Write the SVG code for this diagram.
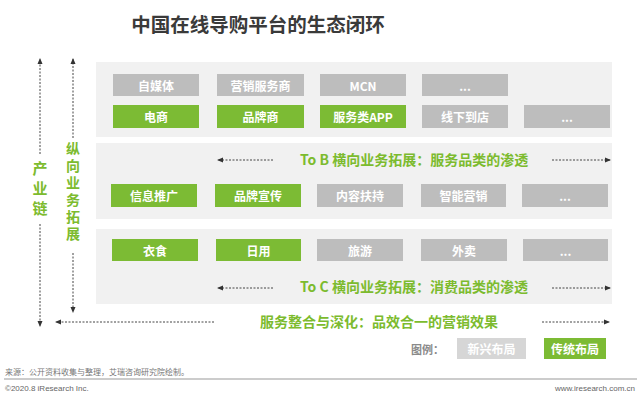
<svg xmlns="http://www.w3.org/2000/svg" width="640" height="400" viewBox="0 0 640 400">
<defs>
<marker id="ah" markerWidth="6" markerHeight="6" refX="5" refY="3" orient="auto" markerUnits="userSpaceOnUse"><path d="M0,0.5 L6,3 L0,5.5 Z" fill="#333"/></marker>
<style>
.cn{font-family:"Noto Sans CJK SC","Liberation Sans",sans-serif;}
.panel{fill:#f1f1f1;}
.g{fill:#7cbb34;}
.s{fill:#bdbdbd;}
.bt{font-family:"Noto Sans CJK SC","Liberation Sans",sans-serif;font-size:12px;font-weight:bold;fill:#fff;text-anchor:middle;dominant-baseline:central;}
.gt{font-family:"Noto Sans CJK SC","Liberation Sans",sans-serif;font-size:14px;font-weight:bold;fill:#7cbb2e;}
.vt{font-family:"Noto Sans CJK SC","Liberation Sans",sans-serif;font-weight:bold;fill:#7cbb2e;writing-mode:tb;}
.dash{stroke:#444;stroke-width:1;stroke-dasharray:2,1.5;fill:none;}
</style>
</defs>
<rect width="640" height="400" fill="#fff"/>
<text x="258" y="23" class="cn" font-size="19.5" font-weight="bold" fill="#3a3a3a" text-anchor="middle" dominant-baseline="central">中国在线导购平台的生态闭环</text>

<rect class="panel" x="96" y="62" width="516" height="75"/>
<rect class="panel" x="96" y="143" width="516" height="76"/>
<rect class="panel" x="96" y="229" width="516" height="75"/>

<g id="n1"><rect class="s" x="113" y="74" width="86" height="22"/><text class="bt" x="156" y="85">自媒体</text></g>
<g id="n2"><rect class="s" x="217" y="74" width="87" height="22"/><text class="bt" x="260.5" y="85">营销服务商</text></g>
<g id="n3"><rect class="s" x="320" y="74" width="86" height="22"/><text class="bt" x="363" y="85">MCN</text></g>
<g id="n4"><rect class="s" x="422" y="74" width="86" height="22"/><text class="bt" x="465" y="85">...</text></g>

<g id="n5"><rect class="g" x="113" y="105" width="86" height="23"/><text class="bt" x="156" y="116.5">电商</text></g>
<g id="n6"><rect class="g" x="217" y="105" width="87" height="23"/><text class="bt" x="260.5" y="116.5">品牌商</text></g>
<g id="n7"><rect class="g" x="320" y="105" width="86" height="23"/><text class="bt" x="363" y="116.5">服务类APP</text></g>
<g id="n8"><rect class="s" x="422" y="105" width="86" height="23"/><text class="bt" x="465" y="116.5">线下到店</text></g>
<g id="n9"><rect class="s" x="524" y="105" width="86" height="23"/><text class="bt" x="567" y="116.5">...</text></g>

<g id="n10"><rect class="g" x="111" y="184" width="86" height="23"/><text class="bt" x="154" y="195.5">信息推广</text></g>
<g id="n11"><rect class="g" x="215" y="184" width="86" height="23"/><text class="bt" x="258" y="195.5">品牌宣传</text></g>
<g id="n12"><rect class="s" x="317" y="184" width="86" height="23"/><text class="bt" x="360" y="195.5">内容扶持</text></g>
<g id="n13"><rect class="s" x="421" y="184" width="85" height="23"/><text class="bt" x="463.5" y="195.5">智能营销</text></g>
<g id="n14"><rect class="s" x="522" y="184" width="86" height="23"/><text class="bt" x="565" y="195.5">...</text></g>

<g id="n15"><rect class="g" x="112" y="239" width="86" height="22"/><text class="bt" x="155" y="250">衣食</text></g>
<g id="n16"><rect class="g" x="216" y="239" width="85" height="22"/><text class="bt" x="258.5" y="250">日用</text></g>
<g id="n17"><rect class="s" x="317" y="239" width="86" height="22"/><text class="bt" x="360" y="250">旅游</text></g>
<g id="n18"><rect class="s" x="421" y="239" width="86" height="22"/><text class="bt" x="464" y="250">外卖</text></g>
<g id="n19"><rect class="s" x="523" y="239" width="85" height="22"/><text class="bt" x="565.5" y="250">...</text></g>

<g id="labels">
<text class="gt" x="300" y="165">To B 横向业务拓展：服务品类的渗透</text>
<text class="gt" x="300" y="292">To C 横向业务拓展：消费品类的渗透</text>
<text class="gt" x="260" y="327">服务整合与深化：品效合一的营销效果</text>
<text class="vt" x="40" y="160.5" font-size="15" letter-spacing="5">产业链</text>
<text class="vt" x="73" y="142" font-size="14" letter-spacing="3">纵向业务拓展</text>
</g>

<g id="connectors">
<line class="dash" x1="273" y1="160" x2="218" y2="160" marker-end="url(#ah)"/>
<line class="dash" x1="552" y1="160" x2="610" y2="160" marker-end="url(#ah)"/>
<line class="dash" x1="273" y1="288" x2="218" y2="288" marker-end="url(#ah)"/>
<line class="dash" x1="552" y1="288" x2="610" y2="288" marker-end="url(#ah)"/>
<line class="dash" x1="214" y1="322" x2="56" y2="322" marker-end="url(#ah)"/>
<line class="dash" x1="542" y1="322" x2="609" y2="322" marker-end="url(#ah)"/>
<line class="dash" x1="40" y1="154" x2="40" y2="59" marker-end="url(#ah)"/>
<line class="dash" x1="40" y1="224" x2="40" y2="326" marker-end="url(#ah)"/>
<line class="dash" x1="73" y1="138" x2="73" y2="59" marker-end="url(#ah)"/>
<line class="dash" x1="73" y1="253" x2="73" y2="312" marker-end="url(#ah)"/>
</g>

<g id="legend">
<text x="411" y="349" class="cn" font-size="11" font-weight="bold" fill="#8a8a8a" dominant-baseline="central">图例：</text>
<rect x="457" y="338" width="69" height="21" fill="#d6d6d6"/>
<text class="bt" x="491.5" y="348.5">新兴布局</text>
<rect x="544" y="338" width="62" height="21" fill="#7cbb34"/>
<text class="bt" x="575" y="348.5">传统布局</text>
</g>

<text x="5" y="371" class="cn" font-size="8" fill="#777" dominant-baseline="central">来源：公开资料收集与整理，艾瑞咨询研究院绘制。</text>
<line x1="4" y1="379" x2="637" y2="379" stroke="#999" stroke-width="1"/>
<text x="5" y="388" font-family="'Liberation Sans',sans-serif" font-size="8" fill="#666" dominant-baseline="central">©2020.8 iResearch Inc.</text>
<text x="635" y="388" font-family="'Liberation Sans',sans-serif" font-size="8" fill="#666" text-anchor="end" dominant-baseline="central">www.iresearch.com.cn</text>
</svg>
